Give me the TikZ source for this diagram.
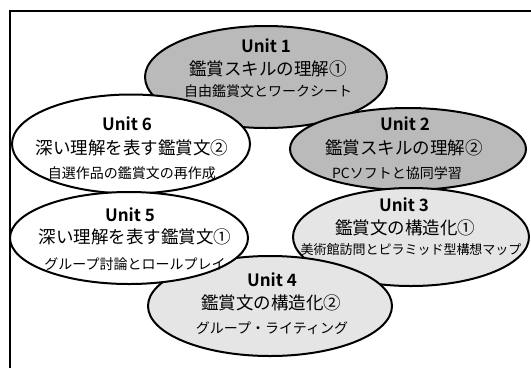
\documentclass[tikz,border=0pt]{standalone}
\usepackage{fontspec}
\setmainfont{Noto Sans CJK JP}
\newfontfamily\jpb{Noto Sans CJK JP Bold}
\usetikzlibrary{shapes.geometric}
\tikzset{
  unitshape/.style={ellipse, draw=black, line width=2pt, inner sep=0pt},
  darkfill/.style={fill=black!27},
  lightfill/.style={fill=black!10},
  whitefill/.style={fill=white},
  unitlab/.style={inner sep=0pt, font=\fontsize{17}{17}\selectfont\jpb},
  mainlab/.style={inner sep=0pt, font=\fontsize{17.5}{17.5}\selectfont},
  sublab/.style={inner sep=0pt, font=\fontsize{14}{14}\selectfont},
  framel/.style={line width=1.8pt, draw=black}
}
\begin{document}
\begin{tikzpicture}[x=1pt,y=-1pt]
\useasboundingbox (0,0) rectangle (531,368);
\coordinate (fa) at (10,368);
\coordinate (fb) at (10,11);
\coordinate (fc) at (531,11);
\draw[framel] (fa) -- (fb) -- (fc);

\node[unitshape, darkfill, minimum width=242pt, minimum height=102pt] (u1) at (266,77) {};
\node[unitlab] (u1a) at (266,46) {Unit 1};
\node[mainlab] (u1b) at (268,69) {鑑賞スキルの理解①};
\node[sublab] (u1c) at (268,91) {自由鑑賞文とワークシート};

\node[unitshape, darkfill, minimum width=236pt, minimum height=82pt] (u2) at (408,149) {};
\node[unitlab] (u2a) at (405,124) {Unit 2};
\node[mainlab] (u2b) at (404,148) {鑑賞スキルの理解②};
\node[sublab] (u2c) at (397,173) {PCソフトと協同学習};

\node[unitshape, lightfill, minimum width=236pt, minimum height=98pt] (u3) at (411,237) {};
\node[unitlab] (u3a) at (404,205) {Unit 3};
\node[mainlab] (u3b) at (405,228) {鑑賞文の構造化①};
\node[sublab, font=\fontsize{13}{13}\selectfont] (u3c) at (411,250) {美術館訪問とピラミッド型構想マップ};

\node[unitshape, lightfill, minimum width=244pt, minimum height=100pt] (u4) at (270,306) {};
\node[unitlab] (u4a) at (272,280) {Unit 4};
\node[mainlab] (u4b) at (271,303) {鑑賞文の構造化②};
\node[sublab] (u4c) at (272,328) {グループ・ライティング};

\node[unitshape, whitefill, minimum width=238pt, minimum height=99pt] (u6) at (131,144) {};
\node[unitlab] (u6a) at (127,124) {Unit 6};
\node[mainlab] (u6b) at (132,148) {深い理解を表す鑑賞文②};
\node[sublab] (u6c) at (132,173) {自選作品の鑑賞文の再作成};

\node[unitshape, whitefill, minimum width=238pt, minimum height=92pt] (u5) at (129,238) {};
\node[unitlab] (u5a) at (130,215) {Unit 5};
\node[mainlab] (u5b) at (135,237) {深い理解を表す鑑賞文①};
\node[sublab] (u5c) at (135,264) {グループ討論とロールプレイ};
\end{tikzpicture}
\end{document}
